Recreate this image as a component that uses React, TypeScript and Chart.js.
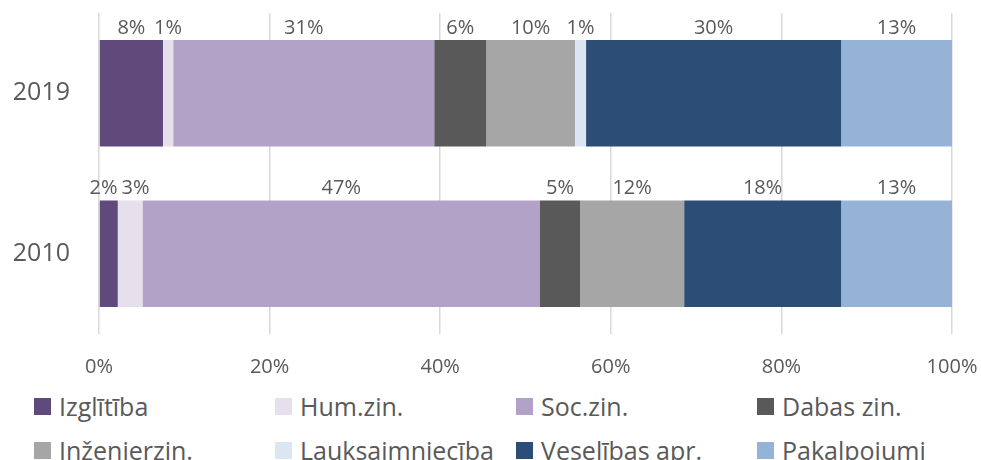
import React, { useEffect, useRef } from "react";
import { Chart, registerables } from "chart.js";

Chart.register(...registerables);

// ---- data ----
const categories = ["2019", "2010"];
const seriesNames = [
  "Izglītība",
  "Hum.zin.",
  "Soc.zin.",
  "Dabas zin.",
  "Inženierzin.",
  "Lauksaimniecība",
  "Veselības apr.",
  "Pakalpojumi",
];
const izglitiba = [7.5, 2.2];
const humZin = [1.2, 2.9];
const socZin = [30.6, 46.6];
const dabasZin = [6.1, 4.7];
const inzenierzin = [10.4, 12.2];
const lauksaimnieciba = [1.3, 0];
const veselibasApr = [29.9, 18.4];
const pakalpojumi = [13.0, 13.0];
const seriesValues = [izglitiba, humZin, socZin, dabasZin, inzenierzin, lauksaimnieciba, veselibasApr, pakalpojumi];
const seriesColors = ["#604A7B", "#E6E0EC", "#B3A2C7", "#595959", "#A6A6A6", "#DCE6F2", "#2C4D75", "#95B3D7"];
const axisMin = 0;
const axisMax = 100;
const axisStep = 20;

const FONT = "'Open Sans', 'Noto Sans', sans-serif";
const TEXT = "#595959";

const labelPlugin = {
  id: "segLabels",
  afterDatasetsDraw(chart: any) {
    const ctx = chart.ctx;
    ctx.save();
    ctx.font = `20px ${FONT}`;
    ctx.fillStyle = TEXT;
    ctx.textAlign = "center";
    ctx.textBaseline = "middle";
    const nCat = chart.data.labels.length;
    for (let j = 0; j < nCat; j++) {
      const items: { text: string; x: number; y: number; w: number }[] = [];
      chart.data.datasets.forEach((ds: any, i: number) => {
        const v = ds.data[j];
        if (!v) return;
        const bar: any = chart.getDatasetMeta(i).data[j];
        const text = Math.round(v) + "%";
        items.push({
          text,
          x: (bar.x + bar.base) / 2,
          y: bar.y - bar.height / 2 - 12,
          w: ctx.measureText(text).width,
        });
      });
      // nudge apart labels that would overlap
      for (let k = 1; k < items.length; k++) {
        const a = items[k - 1];
        const b = items[k];
        const overlap = a.x + a.w / 2 + 4 - (b.x - b.w / 2);
        if (overlap > 0) {
          a.x -= overlap / 2;
          b.x += overlap / 2;
        }
      }
      items.forEach((it) => ctx.fillText(it.text, it.x, it.y));
    }
    ctx.restore();
  },
};

export default function App() {
  const ref = useRef<HTMLCanvasElement | null>(null);

  useEffect(() => {
    if (!ref.current) return;
    const chart = new Chart(ref.current, {
      type: "bar",
      data: {
        labels: categories,
        datasets: seriesNames.map((name, i) => ({
          label: name,
          data: seriesValues[i],
          backgroundColor: seriesColors[i],
          borderWidth: 0,
          barPercentage: 0.664,
          categoryPercentage: 1,
        })),
      },
      options: {
        indexAxis: "y",
        animation: false,
        responsive: false,
        maintainAspectRatio: false,
        layout: { padding: { top: 13, right: 29, left: 0, bottom: 0 } },
        plugins: {
          legend: { display: false },
          tooltip: { enabled: false },
        },
        scales: {
          x: {
            stacked: true,
            min: axisMin,
            max: axisMax,
            ticks: {
              stepSize: axisStep,
              callback: (v: any) => v + "%",
              color: TEXT,
              font: { family: FONT, size: 20 },
              padding: 21,
            },
            grid: { color: "#D9D9D9", lineWidth: 1.5, drawTicks: false },
            border: { display: false },
            afterFit: (s: any) => {
              s.height = 46;
              s.paddingLeft = 0;
              s.paddingRight = 0;
            },
          },
          y: {
            stacked: true,
            ticks: {
              color: TEXT,
              font: { family: FONT, size: 25 },
              padding: 29,
            },
            grid: { display: false, drawTicks: false },
            border: { display: false },
            afterFit: (s: any) => {
              s.width = 99;
              s.paddingTop = 0;
              s.paddingBottom = 0;
            },
          },
        },
      },
      plugins: [labelPlugin],
    } as any);
    return () => chart.destroy();
  }, []);

  return (
    <div style={{ position: "fixed", left: 0, top: 0, width: 981, height: 460, background: "#fff", overflow: "hidden" }}>
      <canvas ref={ref} width={981} height={380} style={{ display: "block", width: 981, height: 380 }} />
      <div
        style={{
          position: "absolute",
          left: 34,
          top: 384,
          display: "grid",
          gridTemplateColumns: "repeat(4, 241px)",
          fontFamily: FONT,
          fontSize: 25,
          color: TEXT,
        }}
      >
        {seriesNames.map((name, i) => (
          <div key={name} style={{ display: "flex", alignItems: "center", height: 44, whiteSpace: "nowrap" }}>
            <span style={{ display: "inline-block", width: 17, height: 17, background: seriesColors[i], marginRight: 8, flex: "none" }} />
            <span>{name}</span>
          </div>
        ))}
      </div>
    </div>
  );
}
